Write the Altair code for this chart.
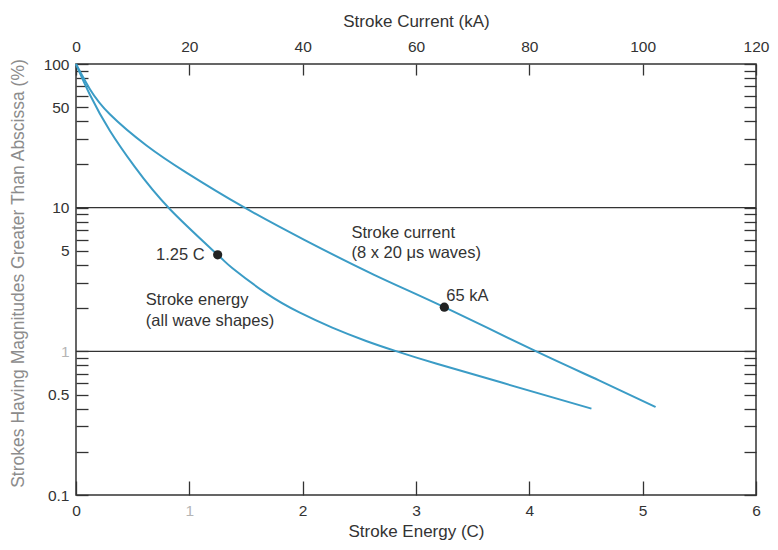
import altair as alt
import pandas as pd

# ---- data ----
energy_c = [0.0, 0.123, 0.299, 0.519, 0.827, 1.25, 1.381, 1.68, 1.971, 2.261, 2.56, 2.824, 3.176, 3.756, 4.548]
energy_pct = [100, 61.1, 34.3, 19.2, 9.79, 4.7, 3.79, 2.53, 1.865, 1.462, 1.181, 1.003, 0.822, 0.606, 0.399]

current_ka = [0.0, 2.46, 5.98, 12.44, 19.48, 29.38, 40.29, 52.61, 65.0, 80.76, 92.2, 102.29]
current_pct = [100, 66.8, 44.7, 27.1, 17.55, 10.2, 5.97, 3.41, 2.03, 1.018, 0.630, 0.410]

marker_energy_c = [1.25]
marker_energy_pct = [4.7]
marker_energy_text = ["1.25 C"]
marker_current_ka = [65]
marker_current_pct = [2.03]
marker_current_text = ["65 kA"]

energy_note_text = ["Stroke energy", "(all wave shapes)"]
energy_note_c = [0.616, 0.616]
energy_note_pct = [2.28, 1.63]
current_note_text = ["Stroke current", "(8 x 20 \u03bcs waves)"]
current_note_ka = [48.6, 48.6]
current_note_pct = [6.70, 4.84]

ref_levels = [10, 1]
y_tick_values = [0.1, 0.2, 0.3, 0.4, 0.5, 0.6, 0.7, 0.8, 0.9,
                 1, 2, 3, 4, 5, 6, 7, 8, 9,
                 10, 20, 30, 40, 50, 60, 70, 80, 90, 100]
y_label_values = [0.1, 0.5, 1, 5, 10, 50, 100]
energy_ticks = [0, 1, 2, 3, 4, 5, 6]
current_ticks = [0, 20, 40, 60, 80, 100, 120]

FONT = "Liberation Sans"
BLUE = "#3b9cc6"
INK = "#333333"
TICK_FS = 15.5
NOTE_FS = 16.5
TITLE_FS = 17

df_e = pd.DataFrame({"C": energy_c, "pct": energy_pct})
df_i = pd.DataFrame({"kA": current_ka, "pct": current_pct})
df_em = pd.DataFrame({"C": marker_energy_c, "pct": marker_energy_pct, "t": marker_energy_text})
df_im = pd.DataFrame({"kA": marker_current_ka, "pct": marker_current_pct, "t": marker_current_text})
df_en = pd.DataFrame({"C": energy_note_c, "pct": energy_note_pct, "t": energy_note_text})
df_in = pd.DataFrame({"kA": current_note_ka, "pct": current_note_pct, "t": current_note_text})
df_ref = pd.DataFrame({"pct": ref_levels})

label_list = "[" + ",".join(str(v) for v in y_label_values) + "]"
label_expr = f"indexof({label_list}, datum.value) >= 0 ? format(datum.value, '~g') : ''"
faint_one = {"condition": {"test": "datum.value === 1", "value": "#b5b5b5"}, "value": INK}

yscale = alt.Scale(type="log", domain=[0.1, 100], nice=False)
xs_e = alt.Scale(domain=[0, 6], nice=False, zero=False)
xs_i = alt.Scale(domain=[0, 120], nice=False, zero=False)

left_axis = alt.Axis(orient="left", values=y_tick_values, labelExpr=label_expr,
                     labelOverlap=False, tickSize=12, offset=-12, domain=False, grid=False,
                     labelPadding=7, labelFont=FONT, labelFontSize=TICK_FS, labelColor=faint_one,
                     tickColor=INK, tickWidth=1.3,
                     title="Strokes Having Magnitudes Greater Than Abscissa (%)",
                     titleFont=FONT, titleFontSize=17.5, titleFontWeight="normal",
                     titleColor="#8c8c8c", titleAngle=-90, titleAlign="center",
                     titleBaseline="middle", titleX=-70, titleY=209)
right_axis = alt.Axis(orient="right", values=y_tick_values, labels=False,
                      tickSize=12, offset=-12, domain=False, grid=False,
                      tickColor=INK, tickWidth=1.3, title=None)
bottom_axis = alt.Axis(orient="bottom", values=energy_ticks, format="~g", tickSize=14, offset=-14,
                       domain=False, grid=False, labelFlush=False, labelPadding=8,
                       labelFont=FONT, labelFontSize=TICK_FS, labelColor=faint_one,
                       tickColor=INK, tickWidth=1.3,
                       title="Stroke Energy (C)", titleFont=FONT, titleFontSize=TITLE_FS,
                       titleFontWeight="normal", titleColor=INK, titlePadding=5)
top_axis = alt.Axis(orient="top", values=current_ticks, format="~g", tickSize=11, offset=-11,
                    domain=False, grid=False, labelFlush=False, labelPadding=10,
                    labelFont=FONT, labelFontSize=TICK_FS, labelColor=INK,
                    tickColor=INK, tickWidth=1.3,
                    title="Stroke Current (kA)", titleFont=FONT, titleFontSize=TITLE_FS,
                    titleFontWeight="normal", titleColor=INK, titlePadding=9)

# energy group (bottom axis, left axis)
e_line = alt.Chart(df_e).mark_line(color=BLUE, strokeWidth=2, interpolate="natural").encode(
    x=alt.X("C:Q", scale=xs_e, axis=bottom_axis),
    y=alt.Y("pct:Q", scale=yscale, axis=left_axis),
)
refs = alt.Chart(df_ref).mark_rule(color=INK, strokeWidth=1.3).encode(
    y=alt.Y("pct:Q", scale=yscale)
)
e_pt = alt.Chart(df_em).mark_circle(color="#222222", size=85, opacity=1).encode(
    x=alt.X("C:Q", scale=xs_e), y=alt.Y("pct:Q", scale=yscale)
)
e_pt_txt = alt.Chart(df_em).mark_text(align="right", baseline="middle", dx=-13,
                                      font=FONT, fontSize=NOTE_FS, color=INK).encode(
    x=alt.X("C:Q", scale=xs_e), y=alt.Y("pct:Q", scale=yscale), text="t:N"
)
e_note = alt.Chart(df_en).mark_text(align="left", baseline="middle",
                                    font=FONT, fontSize=NOTE_FS, color=INK).encode(
    x=alt.X("C:Q", scale=xs_e), y=alt.Y("pct:Q", scale=yscale), text="t:N"
)
energy_group = alt.layer(refs, e_line, e_pt, e_pt_txt, e_note)

# current group (top axis, right axis)
i_line = alt.Chart(df_i).mark_line(color=BLUE, strokeWidth=2, interpolate="natural").encode(
    x=alt.X("kA:Q", scale=xs_i, axis=top_axis),
    y=alt.Y("pct:Q", scale=yscale, axis=right_axis),
)
i_pt = alt.Chart(df_im).mark_circle(color="#222222", size=85, opacity=1).encode(
    x=alt.X("kA:Q", scale=xs_i), y=alt.Y("pct:Q", scale=yscale)
)
i_pt_txt = alt.Chart(df_im).mark_text(align="left", baseline="middle", dx=2, dy=-11,
                                      font=FONT, fontSize=NOTE_FS, color=INK).encode(
    x=alt.X("kA:Q", scale=xs_i), y=alt.Y("pct:Q", scale=yscale), text="t:N"
)
i_note = alt.Chart(df_in).mark_text(align="left", baseline="middle",
                                    font=FONT, fontSize=NOTE_FS, color=INK).encode(
    x=alt.X("kA:Q", scale=xs_i), y=alt.Y("pct:Q", scale=yscale), text="t:N"
)
current_group = alt.layer(i_line, i_pt, i_pt_txt, i_note)

chart = alt.layer(energy_group, current_group).resolve_scale(
    x="independent", y="independent"
).properties(
    width=680, height=431,
    autosize=alt.AutoSizeParams(type="none"),
    padding={"left": 68, "top": 56, "right": 14, "bottom": 47},
    background="white",
).configure_view(stroke=INK, strokeWidth=1.5)

chart.save("out.html", embed_options={"renderer": "svg", "actions": False})
